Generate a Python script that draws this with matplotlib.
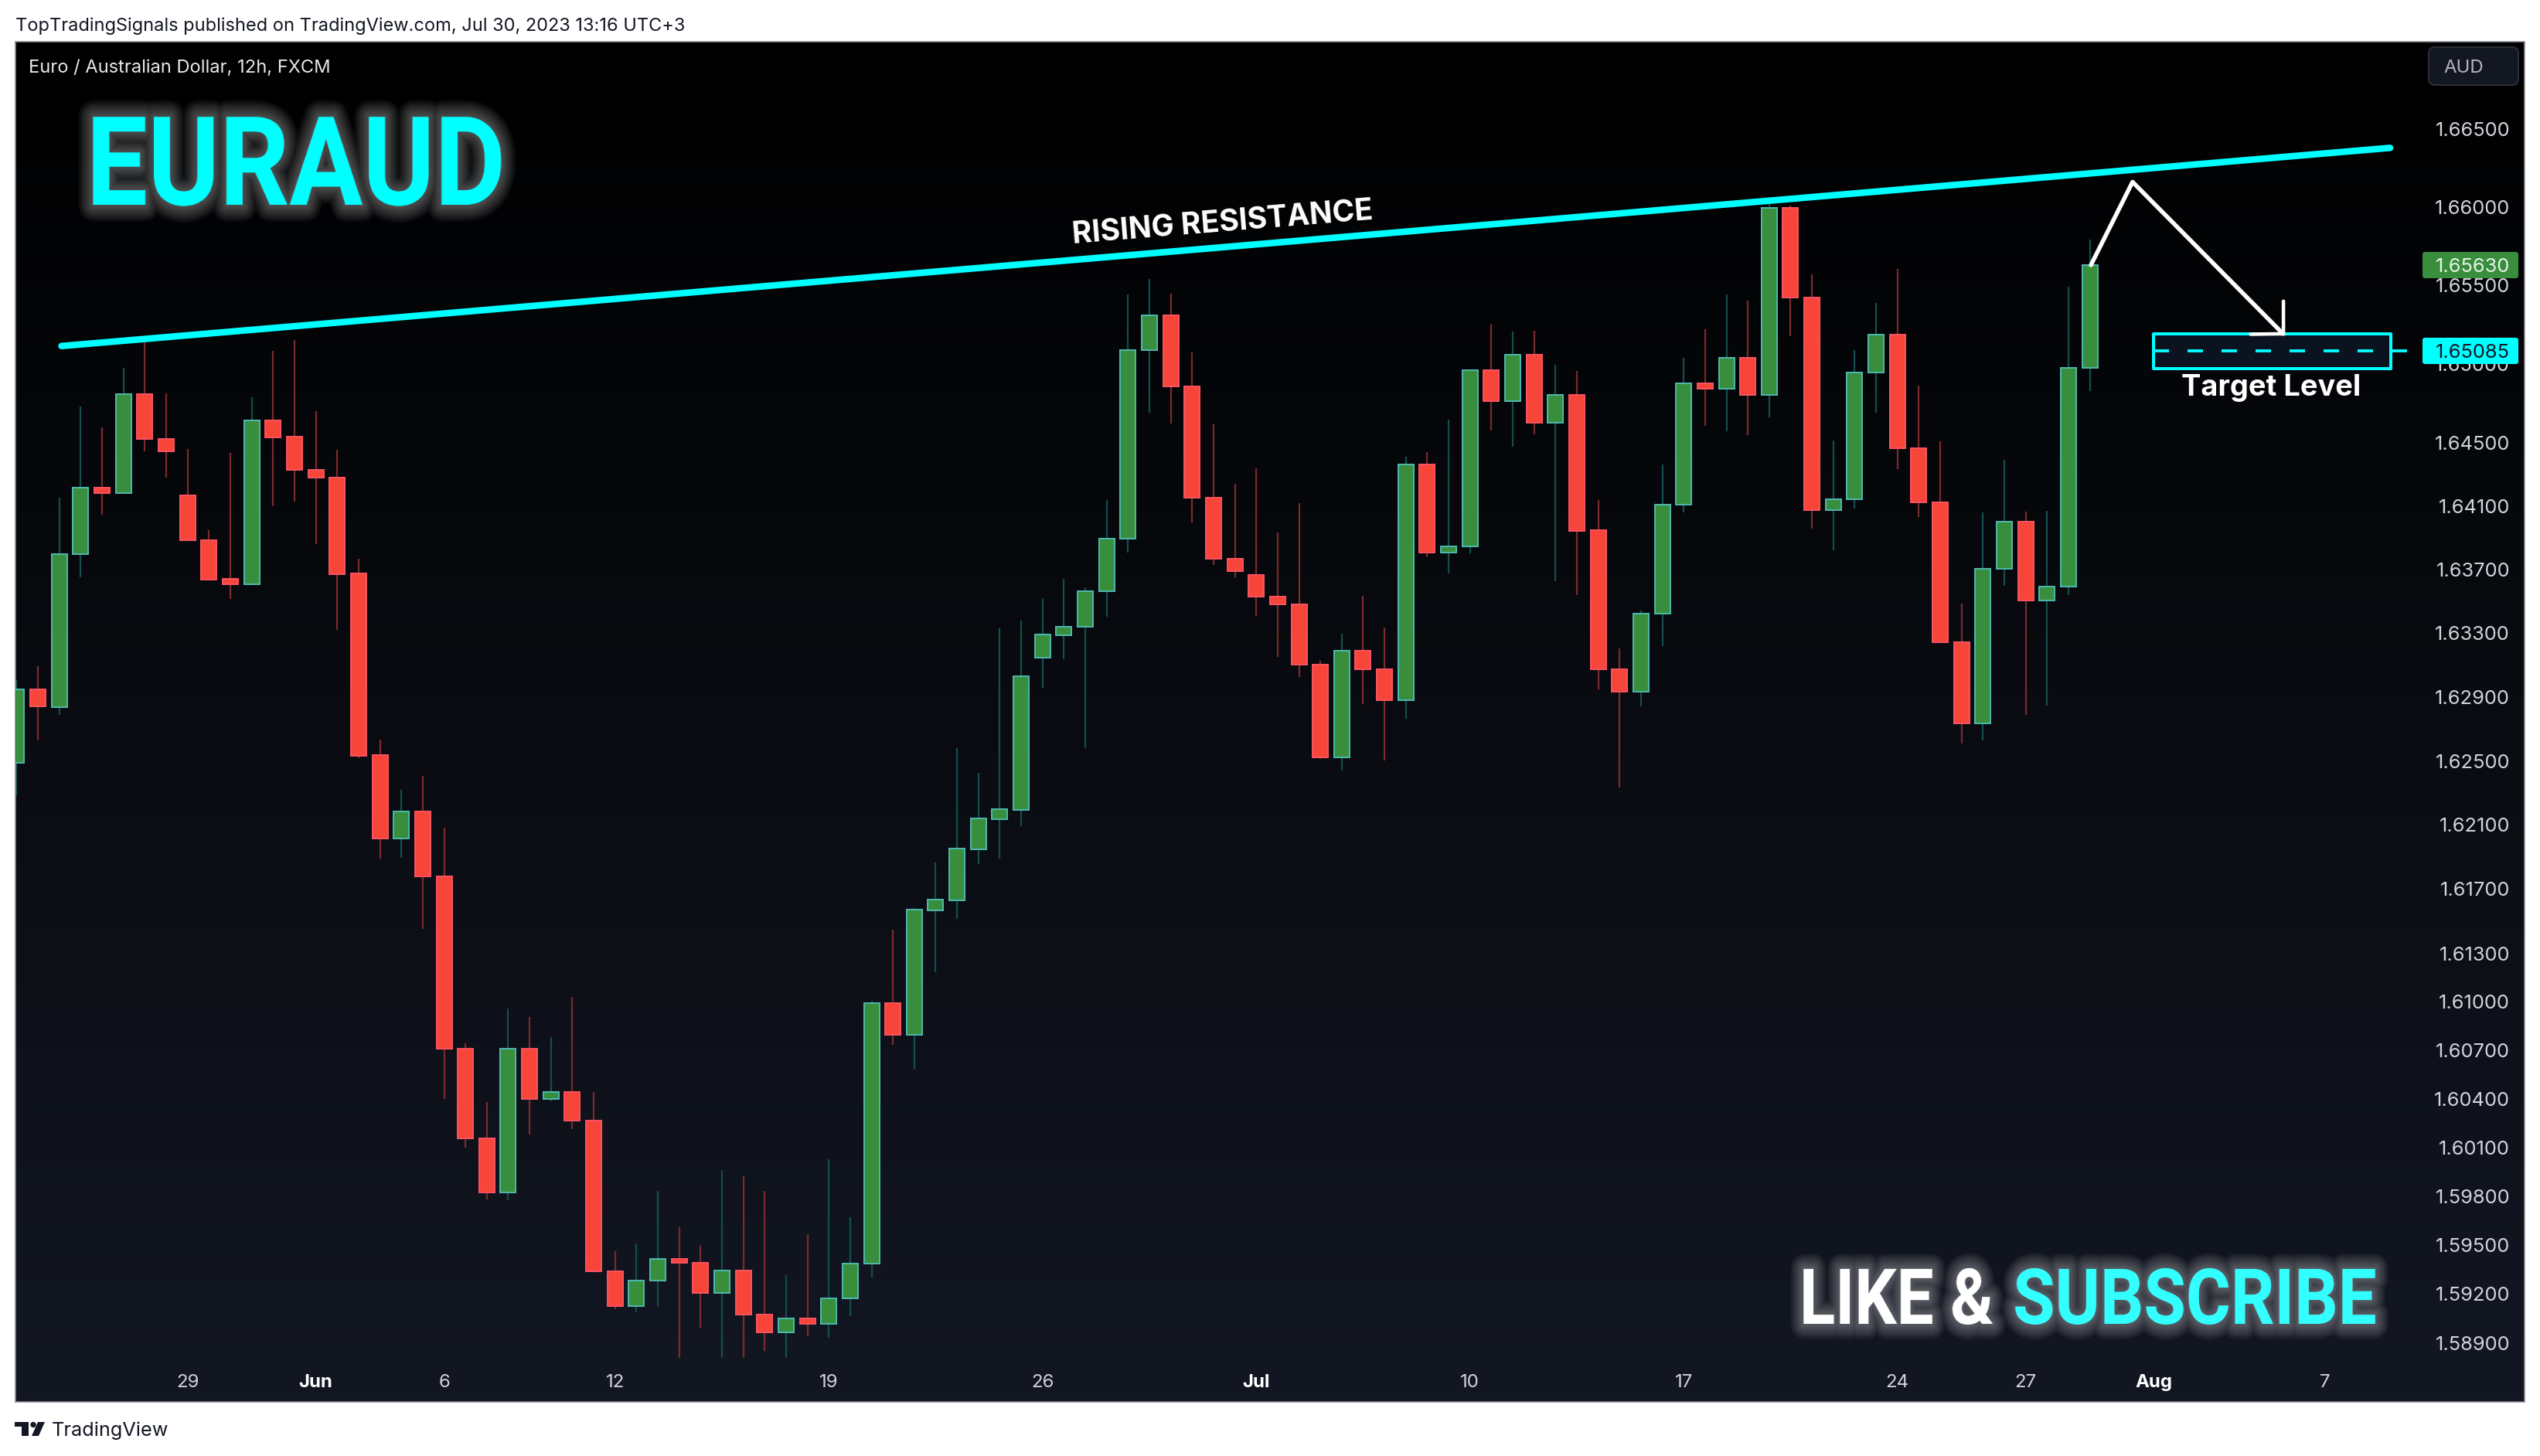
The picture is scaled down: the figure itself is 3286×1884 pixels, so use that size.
import numpy as np
import matplotlib
matplotlib.use("Agg")
import matplotlib.pyplot as plt
import matplotlib.patheffects as pe
from matplotlib.patches import FancyBboxPatch, Circle, Polygon

plt.rcParams['lines.scale_dashes'] = False

# ---- OHLC (12h bars) ----
opens = [1.62486,1.6295,1.62837,1.63799,1.64219,1.64183,1.64812,1.64526,1.64171,1.63886,
         1.63642,1.63608,1.64644,1.64539,1.64331,1.64283,1.63674,1.62534,1.62015,1.62184,
         1.61781,1.60711,1.60158,1.59824,1.60711,1.60397,1.6044,1.60267,1.59341,1.59128,
         1.59283,1.59413,1.59392,1.59208,1.59345,1.59076,1.58963,1.59052,1.59019,1.59175,
         1.59387,1.60993,1.60795,1.61568,1.61631,1.61948,1.62136,1.62194,1.63148,1.63287,
         1.63343,1.63562,1.63895,1.6509,1.65312,1.6486,1.64156,1.6377,1.63667,1.6353,
         1.63483,1.63104,1.62523,1.6319,1.63074,1.62879,1.64365,1.6381,1.63847,1.64961,
         1.64766,1.65062,1.64626,1.64807,1.63947,1.63074,1.62931,1.63425,1.64111,1.6488,
         1.64846,1.6504,1.64807,1.65997,1.65421,1.64077,1.64146,1.64947,1.65188,1.64469,
         1.64125,1.63246,1.62736,1.63707,1.64003,1.63505,1.63594,1.64977]
closes = [1.62947,1.6284,1.63797,1.64219,1.64181,1.64812,1.64526,1.64449,1.63886,1.63638,
          1.63608,1.64644,1.64537,1.64331,1.64281,1.63672,1.62532,1.62015,1.62184,1.61781,
          1.60711,1.60158,1.59824,1.60711,1.60397,1.6044,1.60267,1.59341,1.59128,1.59283,
          1.59413,1.59392,1.59208,1.59345,1.59076,1.58963,1.59052,1.59019,1.59175,1.59387,
          1.60993,1.60795,1.6157,1.61633,1.6195,1.62138,1.62196,1.6303,1.63291,1.63343,
          1.63562,1.63895,1.6509,1.65312,1.6486,1.64156,1.6377,1.63693,1.63528,1.6348,
          1.63104,1.62523,1.6319,1.63072,1.62879,1.64365,1.6381,1.63849,1.64961,1.64764,
          1.65062,1.64626,1.64807,1.63946,1.63074,1.62931,1.63425,1.64111,1.64878,1.64846,
          1.6504,1.64807,1.65997,1.65421,1.64077,1.64146,1.64947,1.65188,1.64467,1.64125,
          1.63246,1.62736,1.63707,1.64003,1.63505,1.63594,1.64977,1.6563]
highs = [1.63007,1.63092,1.64153,1.6473,1.646,1.64974,1.65155,1.64814,1.64461,1.63947,
         1.64438,1.64788,1.65082,1.65155,1.647,1.64456,1.63767,1.62632,1.62318,1.62405,
         1.62081,1.60741,1.6038,1.60958,1.60905,1.6078,1.61029,1.60442,1.59463,1.5951,
         1.59831,1.59609,1.59496,1.59961,1.59923,1.59831,1.59314,1.59567,1.60027,1.5967,
         1.61005,1.61445,1.61581,1.61865,1.62582,1.62424,1.63331,1.6338,1.63521,1.63641,
         1.63587,1.64139,1.65441,1.65541,1.65446,1.65074,1.64618,1.64241,1.64338,1.63933,
         1.64119,1.63129,1.63295,1.63534,1.63334,1.64412,1.64442,1.64648,1.64961,1.65256,
         1.65205,1.65211,1.64994,1.64959,1.64138,1.63203,1.63441,1.64363,1.65042,1.65221,
         1.65442,1.65402,1.66029,1.6601,1.6557,1.64516,1.65088,1.65388,1.65605,1.64862,
         1.64511,1.63487,1.64061,1.64391,1.64067,1.6407,1.65491,1.65792]
lows = [1.62285,1.62628,1.62786,1.63652,1.64049,1.64183,1.64447,1.64279,1.6388,1.63638,
        1.63515,1.63608,1.64099,1.64129,1.6386,1.63322,1.62516,1.61889,1.61896,1.6145,
        1.60401,1.60098,1.59781,1.59776,1.60181,1.60387,1.60214,1.59341,1.59109,1.5909,
        1.59128,1.5881,1.58991,1.5881,1.5881,1.58852,1.5881,1.58939,1.58932,1.59062,
        1.59299,1.60734,1.60582,1.61182,1.61514,1.61855,1.6189,1.62091,1.62958,1.63139,
        1.62582,1.63405,1.63808,1.64694,1.64621,1.63999,1.6373,1.63653,1.63407,1.6315,
        1.63024,1.6251,1.62439,1.62854,1.62502,1.62762,1.63777,1.63676,1.63803,1.64577,
        1.64476,1.64554,1.63627,1.63538,1.6295,1.62332,1.62843,1.63218,1.64061,1.6461,
        1.64573,1.6455,1.64663,1.65179,1.6396,1.6382,1.64086,1.64692,1.64333,1.64033,
        1.63239,1.6261,1.62628,1.63599,1.62788,1.62847,1.63542,1.64827]

price_ticks = [1.665,1.66,1.655,1.65,1.645,1.641,1.637,1.633,1.629,1.625,1.621,
               1.617,1.613,1.61,1.607,1.604,1.601,1.598,1.595,1.592,1.589]
date_positions = [8,14,20,28,38,48,58,68,78,88,94,100,108]
date_labels = ['29','Jun','6','12','19','26','Jul','10','17','24','27','Aug','7']
bold_dates = {'Jun','Jul','Aug'}

resistance_x = [2.1, 111.05]
resistance_y = [1.65115, 1.66379]
path_x = [97.05, 99.0, 106.04]
path_y = [1.6563, 1.66161, 1.65193]
head_x = [106.06, 106.06, 104.52]
head_y = [1.6540, 1.65193, 1.6519]
box_x = [99.98, 111.08]
box_y = [1.64972, 1.6519]
target_price = 1.65085
target_x = [99.98, 111.85]
last_price = 1.6563

W, H = 3286, 1884
L, T, R, B = 20, 54, 3266, 1814
FONT = ['Inter', 'Roboto', 'DejaVu Sans']
HEAD = ['Roboto', 'DejaVu Sans']
px = 0.72  # points per pixel at dpi 100

fig = plt.figure(figsize=(W/100, H/100), dpi=100, facecolor='white')
rect = [L/W, 1-B/H, (R-L)/W, (B-T)/H]

# background gradient
bg = fig.add_axes(rect, zorder=0)
grad = np.linspace(0, 1, 256).reshape(-1, 1, 1)
top_c = np.array([0, 0, 0]); bot_c = np.array([0x13, 0x17, 0x22])
bg.imshow((top_c + (bot_c-top_c)*grad)/255, aspect='auto', extent=[0, 1, 0, 1], origin='upper')
bg.axis('off')

ax = fig.add_axes(rect, zorder=1)
ax.patch.set_alpha(0)
ax.set_yscale('log')
ax.set_xlim(-0.054, 117.34)
ax.set_ylim(1.5854, 1.6706)

idx = np.arange(len(opens))
o, c, h, l = map(np.array, (opens, closes, highs, lows))
up = c >= o
ax.vlines(idx[up], l[up], h[up], color='#124f4e', lw=2.2*px, zorder=2)
ax.vlines(idx[~up], l[~up], h[~up], color='#7b2a2d', lw=2.2*px, zorder=2)
bw = 20/27.65
ax.bar(idx[up], (c-o)[up], bottom=o[up], width=bw, color='#388e3c', edgecolor='#4db6ac', lw=2*px, zorder=3)
ax.bar(idx[~up], (o-c)[~up], bottom=c[~up], width=bw, color='#f7453a', edgecolor='#f7525f', lw=2*px, zorder=3)

# axes ticks drawn inside the pane
ax.yaxis.tick_right()
ax.set_yticks(price_ticks)
ax.set_yticklabels([f'{v:.5f}' for v in price_ticks])
ax.yaxis.set_minor_locator(matplotlib.ticker.NullLocator())
ax.tick_params(axis='y', which='both', length=0, pad=-19*px, labelsize=25.5*px, labelcolor='#d1d4dc')
for t in ax.get_yticklabels():
    t.set_ha('right'); t.set_family(FONT)
ax.set_xticks(date_positions)
ax.set_xticklabels(date_labels)
ax.tick_params(axis='x', length=0, pad=-36*px, labelsize=24*px, labelcolor='#d1d4dc')
for t in ax.get_xticklabels():
    t.set_family(FONT)
    if t.get_text() in bold_dates:
        t.set_fontweight('bold'); t.set_color('#ffffff')
for s in ax.spines.values():
    s.set_color('#8a8d96'); s.set_linewidth(1.6*px)

# drawings
ax.plot(resistance_x, resistance_y, color='#00ffff', lw=8.5*px, solid_capstyle='round', zorder=4)
ax.fill_between(box_x, box_y[0], box_y[1], facecolor='#0c1320', edgecolor='#00ffff', lw=4*px, zorder=4)
ax.plot(target_x, [target_price]*2, color='#00ffff', lw=3.8*px, dashes=(20*px, 24*px), zorder=5, clip_on=False)
ax.plot(path_x, path_y, color='white', lw=5.5*px, solid_capstyle='round', solid_joinstyle='round', zorder=6)
ax.plot(head_x, head_y, color='white', lw=4.5*px, solid_capstyle='round', solid_joinstyle='miter', zorder=6)

# overlay in pixel coordinates for labels
ov = fig.add_axes([0, 0, 1, 1], zorder=5)
ov.set_xlim(0, W); ov.set_ylim(H, 0); ov.axis('off'); ov.patch.set_alpha(0)

def tag(y0, y1, color, label, tc):
    ov.add_patch(FancyBboxPatch((3134, y0), 124, y1-y0, boxstyle='round,pad=0,rounding_size=3', fc=color, ec='none', zorder=3))
    ov.text(3247, (y0+y1)/2, label, ha='right', va='center_baseline', fontsize=25.5*px, color=tc, family=FONT, zorder=4)

tag(326, 360, '#388e3c', f'{last_price:.5f}', '#e6f2e6')
tag(437, 471, '#00ffff', f'{target_price:.5f}', '#131722')

ov.add_patch(FancyBboxPatch((3142, 61), 116, 49, boxstyle='round,pad=0,rounding_size=8', fc='#131722', ec='#2a2e39', lw=2*px))
ov.text(3161, 86, 'AUD', ha='left', va='center_baseline', fontsize=24*px, color='#b2b5be', family=FONT)
ov.text(37, 86, 'Euro / Australian Dollar, 12h, FXCM', ha='left', va='center_baseline', fontsize=23.7*px, color='#e8e8e8', family=FONT)
ov.text(20, 40, 'TopTradingSignals published on TradingView.com, Jul 30, 2023 13:16 UTC+3', ha='left', va='baseline',
        fontsize=23.6*px, color='#131722', family=FONT)
ov.text(67, 1858, 'TradingView', ha='left', va='baseline', fontsize=25.3*px, color='#131722', family=FONT)

# logo
ov.add_patch(Polygon([(19, 1840), (37, 1840), (37, 1858), (28, 1858), (28, 1846), (19, 1846)], fc='#131722', ec='none'))
ov.add_patch(Circle((43, 1843.5), 3.7, fc='#131722', ec='none'))
ov.add_patch(Polygon([(49, 1840), (58, 1840), (50, 1858), (41, 1858)], fc='#131722', ec='none'))

def glow(width=44, n=10, a=0.035, col='white'):
    fx = [pe.Stroke(linewidth=width*(n-i)/n*px, foreground=col, alpha=a) for i in range(n)]
    return fx + [pe.Normal()]

def squeeze(s):
    """Agg filter: narrows the rendered text horizontally (no condensed font is installed)."""
    def f(img, dpi):
        hh, ww, _ = img.shape
        nw = max(1, int(round(ww*s)))
        xs = np.clip((np.arange(nw)+.5)/s-.5, 0, ww-1)
        i0 = np.floor(xs).astype(int)
        i1 = np.minimum(i0+1, ww-1)
        t = (xs-i0)[None, :, None]
        return img[:, i0]*(1-t)+img[:, i1]*t, 0, 0
    return f

t1 = ov.text(113, 265, 'EURAUD', ha='left', va='baseline', fontsize=160*px, color='#00ffff', family=HEAD, fontweight='bold',
             path_effects=glow())
t1.set_agg_filter(squeeze(0.883))
t2 = ov.text(2330, 1713, 'LIKE &', ha='left', va='baseline', fontsize=100*px, color='white', family=HEAD, fontweight='bold',
             path_effects=glow(40))
t2.set_agg_filter(squeeze(0.855))
t3 = ov.text(2606, 1713, 'SUBSCRIBE', ha='left', va='baseline', fontsize=100*px, color='#33ffff', family=HEAD, fontweight='bold',
             path_effects=glow(40))
t3.set_agg_filter(squeeze(0.886))

ov.text(1582, 289, 'RISING RESISTANCE', ha='center', va='center', rotation=4.6, rotation_mode='anchor',
        fontsize=39*px, color='white', family=FONT, fontweight='bold')
ov.text(2938, 502, 'Target Level', ha='center', va='center', fontsize=38*px, color='white', family=FONT, fontweight='bold')

fig.savefig('out.png', dpi=100, facecolor='white')
